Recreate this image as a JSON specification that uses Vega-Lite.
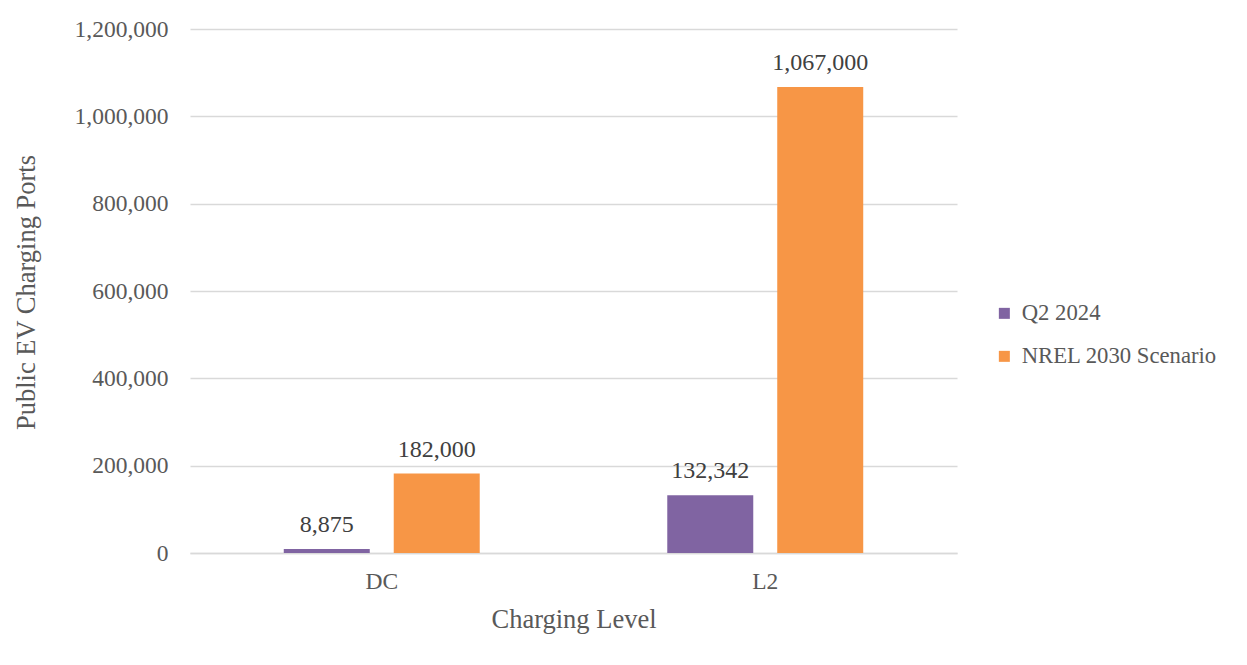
{
  "$schema": "https://vega.github.io/schema/vega-lite/v6.json",
  "autosize": {"type": "none"},
  "width": 767,
  "height": 524,
  "padding": {"left": 190, "top": 29, "right": 290, "bottom": 112},
  "background": "white",
  "data": {"values": [
    {"level": "DC", "series": "Q2 2024", "ports": 8875},
    {"level": "DC", "series": "NREL 2030 Scenario", "ports": 182000},
    {"level": "L2", "series": "Q2 2024", "ports": 132342},
    {"level": "L2", "series": "NREL 2030 Scenario", "ports": 1067000}
  ]},
  "encoding": {
    "x": {"field": "level", "type": "nominal", "title": "Charging Level",
      "scale": {"paddingInner": 0.489, "paddingOuter": 0.2445},
      "axis": {"labelAngle": 0, "labelFontSize": 23.5, "labelColor": "#595959", "labelPadding": 16,
        "titleFontSize": 26.5, "titleColor": "#595959", "titleFontWeight": "normal", "titlePadding": 14,
        "ticks": false, "domainColor": "#d9d9d9", "domainWidth": 1.5}},
    "xOffset": {"field": "series", "type": "nominal", "sort": ["Q2 2024", "NREL 2030 Scenario"],
      "scale": {"paddingInner": 0.218, "paddingOuter": 0}},
    "y": {"field": "ports", "type": "quantitative", "title": "Public EV Charging Ports",
      "scale": {"domain": [0, 1200000]},
      "axis": {"values": [0, 200000, 400000, 600000, 800000, 1000000, 1200000], "format": ",d",
        "labelFontSize": 23.5, "labelColor": "#595959", "labelPadding": 22,
        "ticks": false, "domain": false, "gridColor": "#d9d9d9", "gridWidth": 1.5,
        "titleFontSize": 26.5, "titleColor": "#595959", "titleFontWeight": "normal",
        "titleX": -164, "titleY": 263, "titleBaseline": "middle", "titleAngle": -90, "titleAlign": "center"}},
    "color": {"field": "series", "type": "nominal", "sort": ["Q2 2024", "NREL 2030 Scenario"], "title": null,
      "scale": {"domain": ["Q2 2024", "NREL 2030 Scenario"], "range": ["#8064A2", "#F79646"]},
      "legend": {"orient": "none", "legendX": 803, "legendY": 273, "symbolType": "square", "symbolSize": 121,
        "symbolStrokeWidth": 0, "labelFontSize": 22.7, "labelColor": "#595959", "rowPadding": 19, "labelOffset": 6,
        "labelLimit": 300}}
  },
  "layer": [
    {"mark": {"type": "bar"}},
    {"mark": {"type": "text", "baseline": "alphabetic", "dy": -17, "fontSize": 24, "color": "#404040"},
      "encoding": {"text": {"field": "ports", "type": "quantitative", "format": ",d"}, "color": {"value": "#404040"}}}
  ],
  "config": {
    "font": "Liberation Serif",
    "view": {"stroke": null}
  }
}
